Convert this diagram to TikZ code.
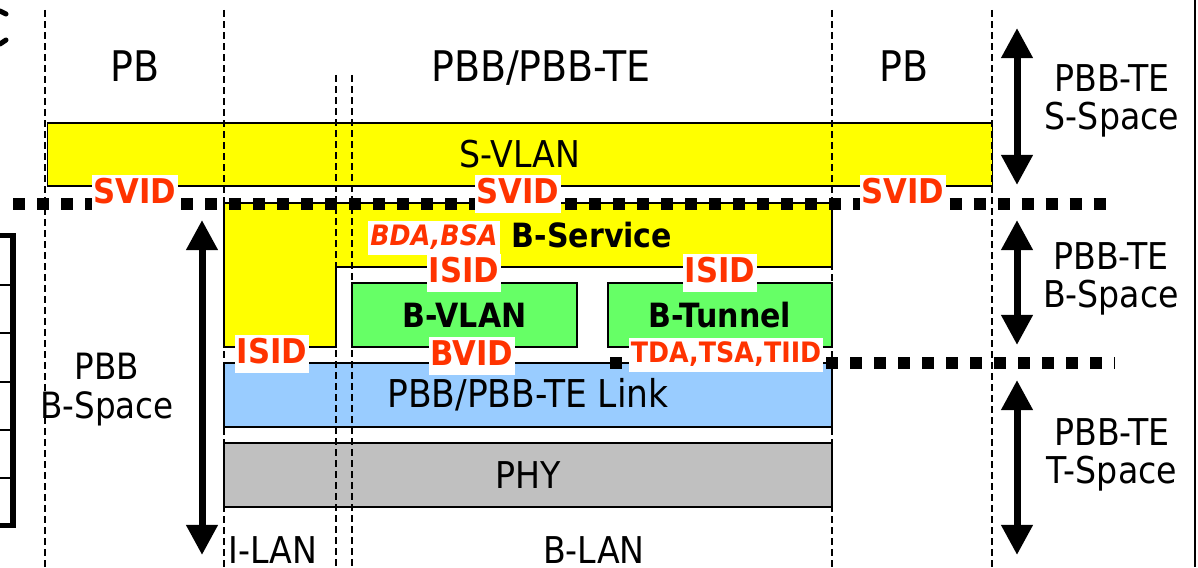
\documentclass[tikz,border=0pt]{standalone}
\usepackage{fontspec}
\setmainfont{DejaVuSansCondensed.ttf}[
  BoldFont=DejaVuSansCondensed-Bold.ttf,
  ItalicFont=DejaVuSansCondensed-Oblique.ttf,
  BoldItalicFont=DejaVuSansCondensed-BoldOblique.ttf]
\usetikzlibrary{arrows.meta}

\definecolor{layeryellow}{RGB}{255,255,0}
\definecolor{layergreen}{RGB}{102,255,102}
\definecolor{layerblue}{RGB}{153,204,255}
\definecolor{layergray}{RGB}{192,192,192}
\definecolor{tagred}{RGB}{255,51,0}

\tikzset{
  layer/.style={draw, line width=0.015cm, minimum height=0.64cm, inner sep=0pt},
  boxtext/.style={font=\fontsize{10.5}{11.1}\selectfont},
  boldtext/.style={font=\bfseries\fontsize{9.5}{10}\selectfont},
  tag/.style={fill=white, text=tagred, anchor=base, inner xsep=0.02cm, inner ysep=0.03cm,
    text depth=0.07cm, font=\bfseries\fontsize{9.7}{10}\selectfont},
  smalltag/.style={tag, font=\bfseries\fontsize{8}{9}\selectfont},
  toplabel/.style={anchor=base, font=\fontsize{12}{14}\selectfont},
  sidelabel/.style={align=center, font=\fontsize{10.5}{10.8}\selectfont},
  span/.style={line width=0.07cm, {Triangle[width=0.3cm,length=0.3cm]}-{Triangle[width=0.3cm,length=0.3cm]}},
  boundary/.style={line width=0.02cm, dash pattern=on 0.07cm off 0.04cm},
  spaceline/.style={line width=0.12cm, dash pattern=on 0.12cm off 0.12cm}
}

\begin{document}
\begin{tikzpicture}[x=0.01cm, y=-0.01cm]
    \useasboundingbox (0,0) rectangle (1198,567);

    % S-VLAN layer
    \node[layer, boxtext, fill=layeryellow, minimum width=9.44cm, minimum height=0.63cm] (svlan) at (520,154.5) {S-VLAN};

    % B-Service layer (stepped)
    \draw[line width=0.015cm, fill=layeryellow] (224,203) -- (832,203) -- (832,267) -- (336,267)
        -- (336,347) -- (224,347) -- cycle;
    \node[boldtext, anchor=base] (bservice) at (592,247) {B-Service};

    % B-VLAN and B-Tunnel
    \node[layer, boldtext, fill=layergreen, minimum width=2.25cm] (bvlan) at (464.5,315) {B-VLAN};
    \node[layer, boldtext, fill=layergreen, minimum width=2.24cm] (btunnel) at (720,315) {B-Tunnel};

    % Link and PHY
    \node[layer, font=\fontsize{10.9}{12}\selectfont, fill=layerblue, minimum width=6.08cm] (link) at (528,395) {PBB/PBB-TE Link};
    \node[layer, boxtext, fill=layergray, minimum width=6.08cm] (phy) at (528,475) {PHY};

    % Domain boundaries
    \foreach \x in {45,224,832,992} {
        \draw[boundary] (\x,10) -- (\x,567);
    }
    \foreach \x in {336,352} {
        \draw[boundary] (\x,75) -- (\x,567);
    }

    % Space borders
    \draw[spaceline] (13,204) -- (1115,204);
    \draw[spaceline] (610,363) -- (1115,363);

    % Tags
    \node[tag] (svidL) at (135,203) {SVID};
    \node[tag] (svidM) at (518,203) {SVID};
    \node[tag] (svidR) at (903,203) {SVID};
    \node[smalltag, font=\bfseries\itshape\fontsize{8}{9}\selectfont] (bdabsa) at (434,245) {BDA,BSA};
    \node[tag] (isidM) at (464,282) {ISID};
    \node[tag] (isidR) at (720,282) {ISID};
    \node[tag] (isidL) at (272,363) {ISID};
    \node[tag] (bvid) at (472,365) {BVID};
    \node[smalltag] (tdatsa) at (726,362) {TDA,TSA,TIID};

    % Top labels
    \node[toplabel] (pbL) at (135,82) {PB};
    \node[toplabel] (pbb) at (541,82) {PBB/PBB-TE};
    \node[toplabel] (pbR) at (904,82) {PB};

    % Bottom labels
    \node[boxtext, anchor=base] (ilan) at (273,563) {I-LAN};
    \node[boxtext, anchor=base] (blan) at (594,563) {B-LAN};

    % Space labels
    \node[align=center, font=\fontsize{10.3}{11.1}\selectfont] (pbbspace) at (107,390) {PBB\\B-Space};
    \node[sidelabel] (sspace) at (1112,101) {PBB-TE\\S-Space};
    \node[sidelabel] (bspace) at (1111,279) {PBB-TE\\B-Space};
    \node[sidelabel] (tspace) at (1112,455) {PBB-TE\\T-Space};

    % Space arrows
    \coordinate (sTop) at (1017,28);
    \coordinate (sBot) at (1017,185);
    \coordinate (bTop) at (1017,220);
    \coordinate (bBot) at (1017,345);
    \coordinate (tTop) at (1017,380);
    \coordinate (tBot) at (1017,555);
    \coordinate (pTop) at (202,220);
    \coordinate (pBot) at (202,555);
    \draw[span] (sTop) -- (sBot);
    \draw[span] (bTop) -- (bBot);
    \draw[span] (tTop) -- (tBot);
    \draw[span] (pTop) -- (pBot);

    % Cut-off parts at the edges
    \draw[line width=0.05cm] (0,235) -- (13,235) -- (13,525) -- (0,525);
    \foreach \y in {285,333,382,430,478} {
        \draw[line width=0.02cm] (0,\y) -- (13,\y);
    }
    \draw[line width=0.05cm, line cap=round] (0,11) -- (6,14);
    \draw[line width=0.05cm, line cap=round] (0,44) -- (6,40);
    \draw[line width=0.02cm] (1195,0) -- (1195,567);
\end{tikzpicture}
\end{document}
